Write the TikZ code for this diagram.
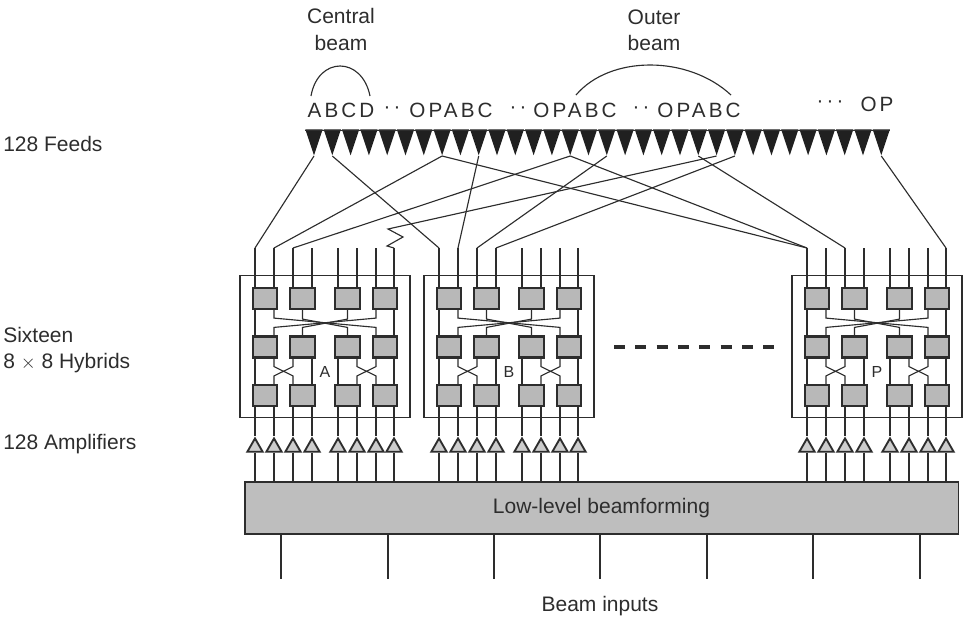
\documentclass[tikz,border=0pt]{standalone}
\usepackage{fontspec}
\setmainfont{Liberation Sans}
\newfontfamily\spacedfont[LetterSpace=15]{Liberation Sans}
\usepackage{tikz}
\usetikzlibrary{calc, shapes.geometric}
\definecolor{ink}{RGB}{45,45,45}
\definecolor{boxgray}{RGB}{184,184,184}
\definecolor{lowgray}{RGB}{190,190,190}
\tikzset{
  wire/.style={draw=ink, line width=0.85pt},
  hybrid/.style={draw=ink, line width=0.85pt, minimum width=127.5pt, minimum height=107pt, inner sep=0},
  hbox/.style={draw=ink, line width=1.6pt, fill=boxgray, minimum width=18.2pt, minimum height=15.8pt, inner sep=0},
  amp/.style={isosceles triangle, isosceles triangle stretches, shape border rotate=90, anchor=apex,
    draw=ink, line width=1.4pt, fill=boxgray!70, minimum width=11.5pt, minimum height=10pt, inner sep=0},
  feed/.style={isosceles triangle, isosceles triangle stretches, shape border rotate=-90, anchor=apex,
    fill=ink!70!black, minimum width=13pt, minimum height=19.5pt, inner sep=0},
  lowbox/.style={draw=ink, line width=1pt, fill=lowgray, minimum width=535pt, minimum height=39pt, inner sep=0,
    text=ink, font=\fontsize{15.75}{18}\selectfont},
  caption/.style={text=ink, font=\fontsize{15.75}{18}\selectfont, inner sep=0},
  beams/.style={text=ink, font=\spacedfont\fontsize{15.5}{18}\selectfont, inner sep=0},
  hlabel/.style={text=ink, font=\fontsize{12}{14}\selectfont, inner sep=0},
}
\begin{document}
\begin{tikzpicture}[x=0.75pt, y=-0.75pt]
  \useasboundingbox (0,0) rectangle (965,619);

  % left and top captions
  \node[caption, anchor=west] (feeds) at (3,144) {128 Feeds};
  \node[caption, anchor=west] (sixteen) at (3,335) {Sixteen};
  \node[caption, anchor=west] (hybrids) at (3,363) {8 $\times$ 8 Hybrids};
  \node[caption, anchor=west] (amps) at (3,444) {128 Amplifiers};
  \node[caption] (central) at (341,16) {Central};
  \node[caption] (centralb) at (341,43) {beam};
  \node[caption] (outer) at (654,17) {Outer};
  \node[caption] (outerb) at (654,43) {beam};

  % beam letters
  \node[beams] (abcd) at (341,110) {ABCD};
  \node[beams] (dots1) at (392,110) {··};
  \node[beams] (op1) at (451,110) {OPABC};
  \node[beams] (dots2) at (518,110) {··};
  \node[beams] (op2) at (575,110) {OPABC};
  \node[beams] (dots3) at (641,110) {··};
  \node[beams] (op3) at (699,110) {OPABC};
  \node[beams] (dots4) at (830,104) {···};
  \node[beams] (op4) at (877,104) {OP};

  \coordinate (cb-l) at (311,96);
  \coordinate (cb-r) at (370,96);
  \coordinate (ob-l) at (576,95);
  \coordinate (ob-r) at (731,95);
  \draw[wire] (cb-l) .. controls (318,56) and (362,56) .. (cb-r);
  \draw[wire] (ob-l) .. controls (610,55) and (688,55) .. (ob-r);

  % feeds
  \foreach \i in {1,...,32}
    \node[feed] (f\i) at ({314+18.3*(\i-1)},156) {};
  \coordinate (bar-l) at (305,130.5);
  \coordinate (bar-r) at (890,130.5);
  \draw[ink, line width=1.4pt] (bar-l) -- (bar-r);

  \node[lowbox] (low) at (601.5,508) {Low-level beamforming};
  \node[caption] (inputs) at (600,606) {Beam inputs};
  \foreach \n/\x in {1/281,2/388,3/494,4/600,5/707,6/813,7/920} {
    \coordinate (in\n) at (\x,579);
    \draw[wire] (in\n |- low.south) -- (in\n);
  }

  % hybrids with their amplifiers
  \foreach \h/\dx in {A/0,B/184,P/552} {
    \node[hybrid] (hyb-\h) at (325+\dx,346.5) {};
    \node[hlabel] (lab-\h) at (325+\dx,372) {\h};
    \foreach \r/\y in {1/298.5,2/347,3/395.5}
      \foreach \c/\x in {1/265,2/302.5,3/347.5,4/385}
        \node[hbox] (b-\h-\r-\c) at (\x+\dx,\y) {};
    \foreach \n/\x/\c in {1/255/1,2/274/1,3/293/2,4/312/2,5/338/3,6/357/3,7/376/4,8/394/4} {
      \coordinate (t-\h-\n) at (\x+\dx,248);
      \node[amp] (a-\h-\n) at (\x+\dx,436) {};
      \draw[wire] (t-\h-\n) -- (t-\h-\n |- b-\h-1-\c.north);
      \draw[wire] (t-\h-\n |- b-\h-3-\c.south) -- (a-\h-\n.apex);
      \draw[wire] (a-\h-\n.lower side) -- (a-\h-\n |- low.north);
    }
    % straight runs
    \draw[wire] (t-\h-1 |- b-\h-1-1.south) -- (t-\h-1 |- b-\h-2-1.north);
    \draw[wire] (t-\h-8 |- b-\h-1-4.south) -- (t-\h-8 |- b-\h-2-4.north);
    \foreach \n/\c in {1/1,4/2,5/3,8/4}
      \draw[wire] (t-\h-\n |- b-\h-2-\c.south) -- (t-\h-\n |- b-\h-3-\c.north);
    % long crossovers
    \foreach \p/\q/\s/\u in {2/1/7/4,7/4/2/1}
      \draw[wire] (t-\h-\p |- b-\h-1-\q.south) -- ++(0,8)
        -- ($(t-\h-\s |- b-\h-2-\u.north)+(0,-8)$) -- (t-\h-\s |- b-\h-2-\u.north);
    \foreach \q/\u in {2/3,3/2}
      \draw[wire] (b-\h-1-\q.south) -- ++(0,9)
        -- ($(b-\h-2-\u.north)+(0,-8)$) -- (b-\h-2-\u.north);
    % short crossovers
    \foreach \p/\q/\s/\u in {2/1/3/2,3/2/2/1,6/3/7/4,7/4/6/3}
      \draw[wire] (t-\h-\p |- b-\h-2-\q.south) -- ++(0,8)
        -- ($(t-\h-\s |- b-\h-3-\u.north)+(0,-8)$) -- (t-\h-\s |- b-\h-3-\u.north);
  }

  % feed wiring
  \foreach \i/\t in {1/A-1,2/B-1,8/A-2,8/P-1,15/A-3,15/P-1,10/B-2,17/B-3,24/B-4,22/P-3,32/P-8}
    \draw[wire] (f\i.apex) -- (t-\t);
  \coordinate (zig-1) at (388,229);
  \coordinate (zig-2) at (403,237);
  \coordinate (zig-3) at (387,246);
  \draw[wire] (f23.apex) -- (zig-1) -- (zig-2) -- (zig-3) -- (t-A-8);

  % row of dashes between the hybrids
  \coordinate (gap-l) at (614,347);
  \coordinate (gap-r) at (775,347);
  \draw[ink, line width=2.6pt, dash pattern=on 8.25pt off 7.75pt] (gap-l) -- (gap-r);
\end{tikzpicture}
\end{document}
